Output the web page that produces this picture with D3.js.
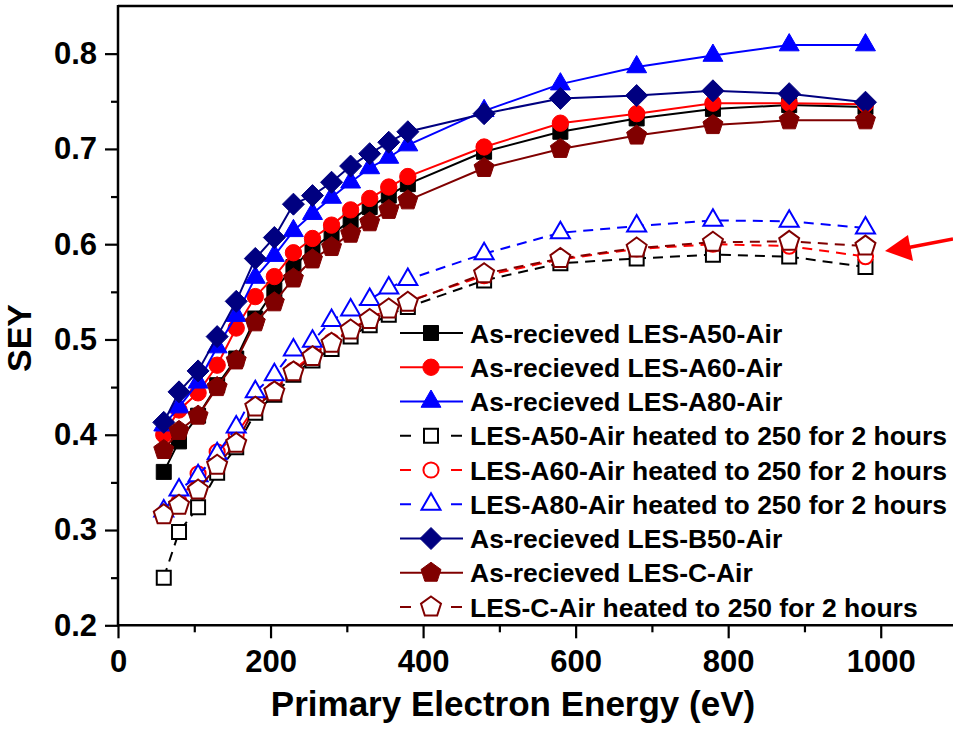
<!DOCTYPE html>
<html><head><meta charset="utf-8">
<script src="https://cdn.jsdelivr.net/npm/d3@7"></script>
<style>
html,body{margin:0;padding:0;background:#fff;}
svg text{font-family:"Liberation Sans",Arial,Helvetica,sans-serif;font-weight:bold;fill:#000;}
</style></head>
<body>
<svg id="chart" width="953" height="729"></svg>
<script>
// ---------------- data ----------------
const energy = [60,80,105,130,155,180,205,230,255,280,305,330,355,380,480,580,680,780,880,980];

const a50Air  = [0.361,0.393,0.420,0.452,0.480,0.522,0.552,0.576,0.596,0.610,0.625,0.639,0.651,0.663,0.697,0.718,0.732,0.742,0.746,0.744];
const a60Air  = [0.400,0.426,0.444,0.473,0.512,0.545,0.566,0.591,0.606,0.620,0.636,0.648,0.660,0.671,0.702,0.727,0.737,0.748,0.748,0.747];
const a80Air  = [0.410,0.429,0.455,0.492,0.525,0.565,0.588,0.614,0.632,0.649,0.665,0.680,0.691,0.704,0.740,0.768,0.786,0.798,0.809,0.809];
const a50Heat = [0.250,0.298,0.324,0.360,0.387,0.423,0.442,0.463,0.478,0.490,0.503,0.515,0.526,0.534,0.562,0.580,0.585,0.589,0.587,0.576];
const a60Heat = [0.316,0.330,0.359,0.382,0.400,0.430,0.447,0.468,0.484,0.498,0.511,0.522,0.532,0.540,0.567,0.584,0.595,0.600,0.598,0.587];
const a80Heat = [0.320,0.342,0.357,0.380,0.408,0.445,0.463,0.489,0.498,0.520,0.531,0.542,0.554,0.563,0.590,0.612,0.619,0.625,0.624,0.617];
const b50Air  = [0.413,0.445,0.467,0.503,0.540,0.585,0.607,0.642,0.651,0.665,0.682,0.695,0.707,0.718,0.737,0.753,0.756,0.761,0.758,0.749];
const cAir    = [0.384,0.404,0.420,0.450,0.478,0.518,0.539,0.564,0.584,0.597,0.611,0.623,0.636,0.646,0.680,0.700,0.714,0.725,0.730,0.730];
const cHeat   = [0.316,0.326,0.342,0.368,0.391,0.429,0.445,0.466,0.482,0.496,0.510,0.521,0.532,0.539,0.569,0.585,0.596,0.602,0.603,0.598];

const seriesNames = [
  "As-recieved LES-A50-Air",
  "As-recieved LES-A60-Air",
  "As-recieved LES-A80-Air",
  "LES-A50-Air heated to 250 for 2 hours",
  "LES-A60-Air heated to 250 for 2 hours",
  "LES-A80-Air heated to 250 for 2 hours",
  "As-recieved LES-B50-Air",
  "As-recieved LES-C-Air",
  "LES-C-Air heated to 250 for 2 hours"
];
const seriesValues = [a50Air,a60Air,a80Air,a50Heat,a60Heat,a80Heat,b50Air,cAir,cHeat];

const xMajorTicks = [0,200,400,600,800,1000];
const xMinorTicks = [100,300,500,700,900];
const yMajorTicks = [0.2,0.3,0.4,0.5,0.6,0.7,0.8];
const yMinorTicks = [0.25,0.35,0.45,0.55,0.65,0.75];

const xTitle = "Primary Electron Energy (eV)";
const yTitle = "SEY";

// ---------------- styles ----------------
const styles = [
  {color:"#000000", shape:"square",   filled:true,  dashed:false},
  {color:"#ff0000", shape:"circle",   filled:true,  dashed:false},
  {color:"#0000ff", shape:"triangle", filled:true,  dashed:false},
  {color:"#000000", shape:"square",   filled:false, dashed:true},
  {color:"#ff0000", shape:"circle",   filled:false, dashed:true},
  {color:"#0000ff", shape:"triangle", filled:false, dashed:true},
  {color:"#000080", shape:"diamond",  filled:true,  dashed:false},
  {color:"#800000", shape:"pentagon", filled:true,  dashed:false},
  {color:"#800000", shape:"pentagon", filled:false, dashed:true}
];

function regPoly(n, r, rot){
  const p = d3.path();
  for(let k=0;k<n;k++){
    const a = rot + k*2*Math.PI/n;
    const px = r*Math.cos(a), py = r*Math.sin(a);
    if(k===0) p.moveTo(px,py); else p.lineTo(px,py);
  }
  p.closePath();
  return p.toString();
}
function shapePath(shape, filled){
  switch(shape){
    case "square":   return d3.symbol(d3.symbolSquare, filled?225:196)();
    case "circle":   return d3.symbol(d3.symbolCircle, filled?210:180)();
    case "triangle": return regPoly(3, filled?11.5:11, -Math.PI/2);
    case "diamond":  return regPoly(4, 11, -Math.PI/2);
    case "pentagon": return regPoly(5, 10.5, -Math.PI/2);
  }
}

// ---------------- scales ----------------
const svg = d3.select("#chart");
const x = d3.scaleLinear().domain([0,1100]).range([118,957]);
const y = d3.scaleLinear().domain([0.2,0.85]).range([625.3,6]);

// frame lines
svg.append("line").attr("x1",x(0)).attr("x2",953).attr("y1",y(0.85)).attr("y2",y(0.85))
  .attr("stroke","#000").attr("stroke-width",2.5);

// axes
const gx = svg.append("g").attr("transform",`translate(0,${y(0.2)})`);
gx.call(d3.axisBottom(x).tickValues(xMajorTicks).tickSize(13).tickSizeOuter(0).tickPadding(12).tickFormat(d3.format("d")));
const gxm = svg.append("g").attr("transform",`translate(0,${y(0.2)})`);
gxm.call(d3.axisBottom(x).tickValues(xMinorTicks).tickSize(7).tickSizeOuter(0).tickFormat(""));
const gy = svg.append("g").attr("transform",`translate(${x(0)},0)`);
gy.call(d3.axisLeft(y).tickValues(yMajorTicks).tickSize(13).tickSizeOuter(0).tickPadding(8).tickFormat(d3.format(".1f")));
const gym = svg.append("g").attr("transform",`translate(${x(0)},0)`);
gym.call(d3.axisLeft(y).tickValues(yMinorTicks).tickSize(7).tickSizeOuter(0).tickFormat(""));

[gx,gxm,gy,gym].forEach(g=>{
  g.selectAll(".domain").remove();
  g.selectAll(".tick line").attr("stroke","#000").attr("stroke-width",2.2);
  g.selectAll(".tick text").style("font-size","31px").attr("fill","#000");
});
svg.append("line").attr("x1",x(0)).attr("x2",953).attr("y1",y(0.2)).attr("y2",y(0.2))
  .attr("stroke","#000").attr("stroke-width",2.5);
svg.append("line").attr("x1",x(0)).attr("x2",x(0)).attr("y1",y(0.85)-1).attr("y2",y(0.2)+1)
  .attr("stroke","#000").attr("stroke-width",2.5);

// titles
svg.append("text").attr("x",513).attr("y",716).attr("text-anchor","middle")
  .style("font-size","35px").text(xTitle);
svg.append("text").attr("transform",`translate(31,${338}) rotate(-90)`).attr("text-anchor","middle")
  .style("font-size","34px").text(yTitle);

// series
const line = d3.line().x(d=>x(d[0])).y(d=>y(d[1]));
seriesValues.forEach((vals,i)=>{
  const st = styles[i];
  const pts = energy.map((e,j)=>[e,vals[j]]);
  const g = svg.append("g");
  g.append("path").attr("d",line(pts)).attr("fill","none").attr("stroke",st.color)
    .attr("stroke-width",2).attr("stroke-dasharray",st.dashed?"10,7":null);
  g.selectAll("path.m").data(pts).join("path").attr("class","m")
    .attr("transform",d=>`translate(${x(d[0])},${y(d[1])})`)
    .attr("d",shapePath(st.shape,st.filled))
    .attr("fill",st.filled?st.color:"#fff")
    .attr("stroke",st.color).attr("stroke-width",st.filled?1:2);
});

// legend
const legY0 = 333, legStep = 34.25;
seriesNames.forEach((name,i)=>{
  const st = styles[i];
  const cy = legY0 + i*legStep;
  const g = svg.append("g");
  if(st.dashed){
    g.append("line").attr("x1",400).attr("x2",411).attr("y1",cy).attr("y2",cy).attr("stroke",st.color).attr("stroke-width",2);
    g.append("line").attr("x1",451).attr("x2",462).attr("y1",cy).attr("y2",cy).attr("stroke",st.color).attr("stroke-width",2);
  } else {
    g.append("line").attr("x1",400).attr("x2",463).attr("y1",cy).attr("y2",cy).attr("stroke",st.color).attr("stroke-width",2);
  }
  g.append("path").attr("transform",`translate(431,${cy})`).attr("d",shapePath(st.shape,st.filled))
    .attr("fill",st.filled?st.color:"#fff").attr("stroke",st.color).attr("stroke-width",st.filled?1:2);
  g.append("text").attr("x",470).attr("y",cy+9.5).style("font-size","26.5px").text(name);
});

// red annotation arrow
const arrow = d3.path();
arrow.moveTo(953,239); arrow.lineTo(906,248);
svg.append("path").attr("d",arrow.toString()).attr("stroke","#ff0000").attr("stroke-width",3.5).attr("fill","none");
svg.append("path").attr("d","M885,251 L908,235 L913,261 Z").attr("fill","#ff0000");
</script>
</body></html>
